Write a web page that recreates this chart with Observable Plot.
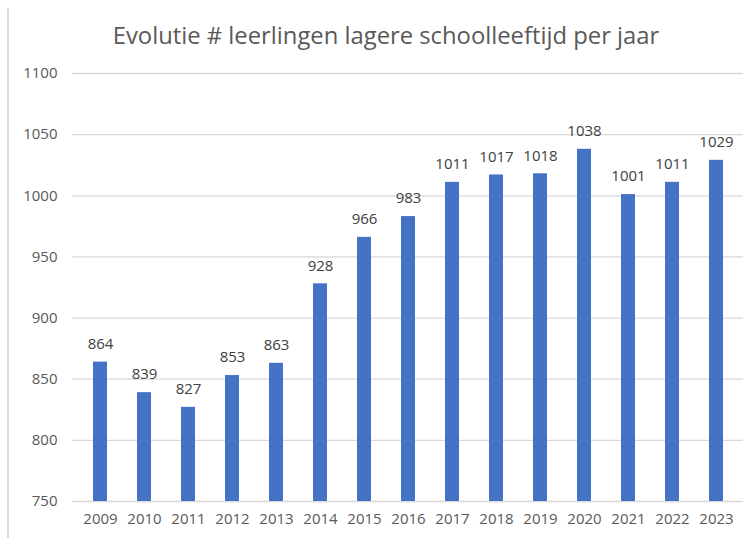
<!DOCTYPE html>
<html><head><meta charset="utf-8">
<script src="https://cdn.jsdelivr.net/npm/d3@7"></script>
<script src="https://cdn.jsdelivr.net/npm/@observablehq/plot@0.6"></script>
<style>
body{margin:0;background:#fff;font-family:"Open Sans",sans-serif;}
#wrap{position:relative;width:754px;height:538px;overflow:hidden;}
#border{position:absolute;left:7px;top:8px;width:0;height:530px;border-left:2px solid #d9d9d9;}
#title{position:absolute;left:9px;width:754px;top:19px;text-align:center;font-size:23.8px;color:#595959;font-family:"Open Sans",sans-serif;white-space:nowrap;}
#chart{position:absolute;left:0;top:0;}
#chart svg text{font-size:15px;}
</style></head>
<body>
<div id="wrap"><div id="border"></div><div id="title">Evolutie # leerlingen lagere schoolleeftijd per jaar</div><div id="chart"></div></div>
<script>
const years = ["2009","2010","2011","2012","2013","2014","2015","2016","2017","2018","2019","2020","2021","2022","2023"];
const values = [864,839,827,853,863,928,966,983,1011,1017,1018,1038,1001,1011,1029];
const yTicks = [750,800,850,900,950,1000,1050,1100];
const data = years.map((y,i)=>({year:y, value:values[i]}));
const plot = Plot.plot({
  width:754, height:538,
  marginLeft:72, marginRight:11, marginTop:73, marginBottom:37,
  style:{fontFamily:"Open Sans, sans-serif", fontSize:"15px", color:"#595959", background:"transparent"},
  x:{domain:years, paddingInner:0.69, paddingOuter:0.345, label:null, tickSize:0, tickPadding:12},
  y:{domain:[750,1100], ticks:yTicks, label:null, tickSize:0, tickPadding:15, tickFormat:d=>String(d)},
  marks:[
    Plot.gridY(yTicks,{stroke:"#d9d9d9", strokeOpacity:1, strokeWidth:1.3}),
    Plot.barY(data,{x:"year", y1:750, y2:"value", fill:"#4472C4"}),
    Plot.text(data,{x:"year", y:"value", text:d=>String(d.value), dy:-18, fill:"#404040", fontSize:15})
  ]
});
document.getElementById("chart").appendChild(plot);
</script>
</body></html>
